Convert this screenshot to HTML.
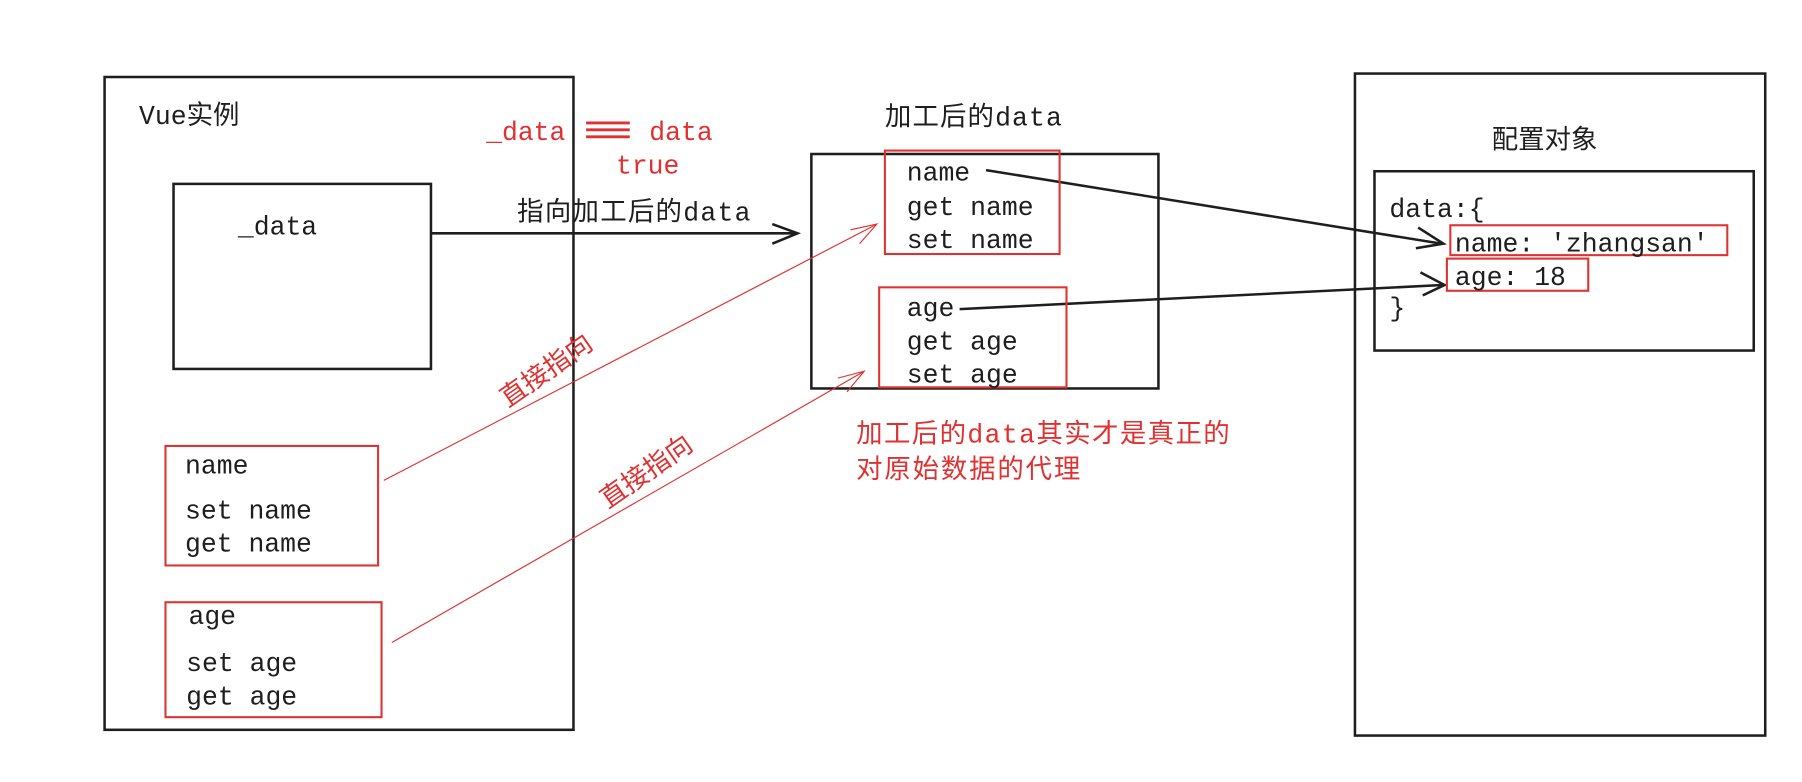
<!DOCTYPE html>
<html><head><meta charset="utf-8"><style>
html,body{margin:0;padding:0;background:#fff;}
svg{display:block}
text{font-family:"Liberation Mono","Noto Sans CJK SC",monospace;font-size:23px;fill:#1e1e1e}
.cn{font-family:"Liberation Mono","Noto Sans CJK SC",monospace;font-size:23px}
.r{fill:#e03131}
</style></head><body>
<svg width="1802" height="782" viewBox="0 0 1568 680.4" preserveAspectRatio="none" xmlns="http://www.w3.org/2000/svg">
<g fill="none" stroke="#1e1e1e" stroke-width="2.2">
<rect x="91" y="67" width="408" height="568"/>
<rect x="151" y="160" width="224" height="161"/>
<rect x="706" y="134" width="302" height="204"/>
<rect x="1179" y="64" width="357" height="576"/>
<rect x="1196" y="149" width="330" height="156"/>
<line x1="375" y1="203" x2="693" y2="203"/>
<polyline points="672,195 694,203 672,212"/>
<line x1="858" y1="148" x2="1254" y2="212"/>
<polyline points="1234,198 1256,212 1232,216"/>
<line x1="835" y1="269" x2="1255" y2="248"/>
<polyline points="1236,237 1257,248 1238,257"/>
</g>
<g fill="none" stroke="#e03131" stroke-width="1.8">
<rect x="144" y="388" width="185" height="104"/>
<rect x="144" y="524" width="188" height="100"/>
<rect x="770" y="131" width="152" height="90"/>
<rect x="765" y="250" width="163" height="87"/>
<rect x="1262" y="196" width="241" height="26"/>
<rect x="1259" y="225" width="123" height="28"/>
<g stroke-width="1">
<line x1="334" y1="418" x2="763" y2="195"/>
<polyline points="740,200 763,195 748,212"/>
<line x1="341" y1="559" x2="752" y2="323"/>
<polyline points="729,329 752,323 737,341"/>
</g>
<g stroke-width="2.5"><line x1="510" y1="107" x2="548" y2="107"/><line x1="510" y1="113" x2="548" y2="113"/><line x1="510" y1="119" x2="548" y2="119"/></g>
</g>
<text x="121" y="108" class="cn">Vue实例</text>
<text x="207" y="204">_data</text>
<text x="423" y="122" class="r">_data</text>
<text x="565" y="122" class="r">data</text>
<text x="536" y="151" class="r">true</text>
<text x="450" y="192" class="cn" textLength="203">指向加工后的data</text>
<text x="161" y="412">name</text>
<text x="161" y="451">set name</text>
<text x="161" y="480">get name</text>
<text x="164" y="543">age</text>
<text x="162" y="584">set age</text>
<text x="162" y="613">get age</text>
<text class="cn r" transform="translate(442,355) rotate(-35)">直接指向</text>
<text class="cn r" transform="translate(529,443) rotate(-35)">直接指向</text>
<text x="770" y="109" class="cn" textLength="154">加工后的data</text>
<text x="789" y="157">name</text>
<text x="789" y="187">get name</text>
<text x="789" y="216">set name</text>
<text x="789" y="275">age</text>
<text x="789" y="304">get age</text>
<text x="789" y="333">set age</text>
<text x="745" y="385" class="cn r" textLength="325">加工后的data其实才是真正的</text>
<text x="745" y="416" class="cn r" textLength="195">对原始数据的代理</text>
<text x="1298" y="129" class="cn">配置对象</text>
<text x="1209" y="189">data:{</text>
<text x="1266" y="219">name: 'zhangsan'</text>
<text x="1266" y="248">age: 18</text>
<text x="1209" y="275">}</text>
</svg>
</body></html>
